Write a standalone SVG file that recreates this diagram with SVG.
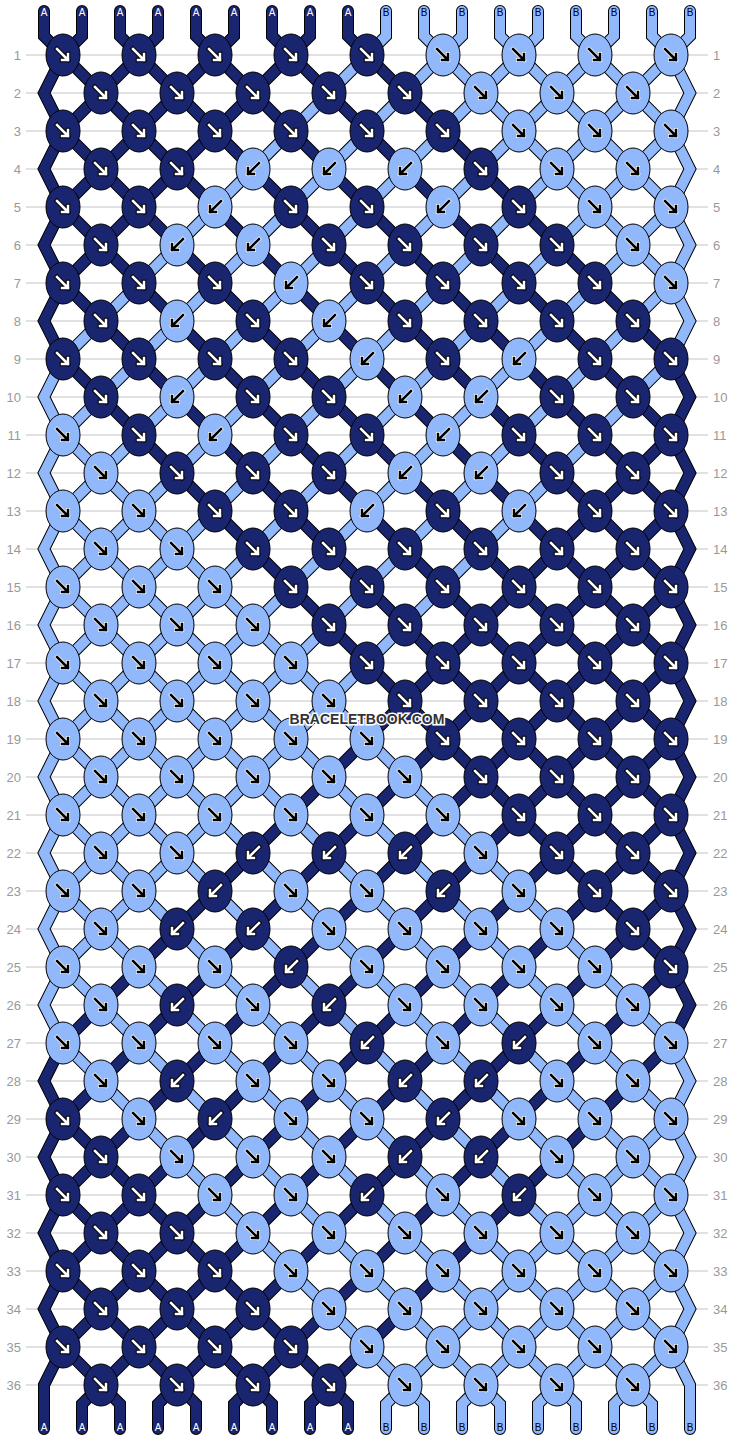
<svg xmlns="http://www.w3.org/2000/svg" xmlns:xlink="http://www.w3.org/1999/xlink" width="734" height="1440" viewBox="0 0 734 1440">
<style>
.ol{fill:none;stroke:#000;stroke-width:12;stroke-linecap:round;stroke-linejoin:miter}
.dk{fill:none;stroke:#1a2570;stroke-width:10;stroke-linecap:round;stroke-linejoin:miter}
.lt{fill:none;stroke:#91b8fa;stroke-width:10;stroke-linecap:round;stroke-linejoin:miter}
.ed{fill:#1a2570;stroke:#000;stroke-width:1}
.el{fill:#91b8fa;stroke:#000;stroke-width:1}
.ha{fill:none;stroke:#000;stroke-width:4.5;stroke-linecap:square}
.hb{fill:none;stroke:#fff;stroke-width:4;stroke-linecap:square}
.aw{fill:none;stroke:#fff;stroke-width:2.5;stroke-linecap:square}
.ab{fill:none;stroke:#000;stroke-width:2.5;stroke-linecap:square}
.grid{fill:none;stroke:#c4c4c4;stroke-width:1}
.num{font-family:"Liberation Sans",Arial,sans-serif;font-size:13px;fill:#999}
.lab{font-family:"Liberation Sans",Arial,sans-serif;font-size:10px;text-anchor:middle}
.la{fill:#fff}
.lb{fill:#000}
.wm{font-family:"Liberation Sans",Arial,sans-serif;font-size:14px;font-weight:bold;fill:#333;stroke:#fff;stroke-width:3;paint-order:stroke;text-anchor:middle}
</style>
<defs>
<g id="ka"><ellipse rx="17" ry="21" class="ed"/><path d="M-6-6L5 5M5-1V5H-1" class="ha"/><path d="M-6-6L5 5M5-1V5H-1" class="aw"/></g>
<g id="kb"><ellipse rx="17" ry="21" class="ed"/><path d="M6-6L-5 5M-5-1V5H1" class="ha"/><path d="M6-6L-5 5M-5-1V5H1" class="aw"/></g>
<g id="kc"><ellipse rx="17" ry="21" class="el"/><path d="M-6-6L5 5M5-1V5H-1" class="hb"/><path d="M-6-6L5 5M5-1V5H-1" class="ab"/></g>
<g id="kd"><ellipse rx="17" ry="21" class="el"/><path d="M6-6L-5 5M-5-1V5H1" class="hb"/><path d="M6-6L-5 5M-5-1V5H1" class="ab"/></g>
<polyline id="s1" points="44,11 44,36 63,55 671,663 690,701 671,739 63,1347 44,1385 44,1429"/>
<polyline id="s2" points="82,11 82,36 63,55 44,93 63,131 671,739 690,777 671,815 101,1385 82,1404 82,1429"/>
<polyline id="s3" points="120,11 120,36 139,55 671,587 690,625 671,663 63,1271 44,1309 63,1347 101,1385 120,1404 120,1429"/>
<polyline id="s4" points="158,11 158,36 139,55 63,131 44,169 63,207 671,815 690,853 671,891 177,1385 158,1404 158,1429"/>
<polyline id="s5" points="196,11 196,36 215,55 671,511 690,549 671,587 63,1195 44,1233 63,1271 177,1385 196,1404 196,1429"/>
<polyline id="s6" points="234,11 234,36 215,55 63,207 44,245 63,283 671,891 690,929 671,967 253,1385 234,1404 234,1429"/>
<polyline id="s7" points="272,11 272,36 291,55 671,435 690,473 671,511 63,1119 44,1157 63,1195 253,1385 272,1404 272,1429"/>
<polyline id="s8" points="310,11 310,36 291,55 63,283 44,321 63,359 671,967 690,1005 671,1043 329,1385 310,1404 310,1429"/>
<polyline id="s9" points="348,11 348,36 367,55 671,359 690,397 671,435 63,1043 44,1081 63,1119 329,1385 348,1404 348,1429"/>
<polyline id="s10" points="386,11 386,36 367,55 63,359 44,397 63,435 671,1043 690,1081 671,1119 405,1385 386,1404 386,1429"/>
<polyline id="s11" points="424,11 424,36 443,55 671,283 690,321 671,359 63,967 44,1005 63,1043 405,1385 424,1404 424,1429"/>
<polyline id="s12" points="462,11 462,36 443,55 63,435 44,473 63,511 671,1119 690,1157 671,1195 481,1385 462,1404 462,1429"/>
<polyline id="s13" points="500,11 500,36 519,55 671,207 690,245 671,283 63,891 44,929 63,967 481,1385 500,1404 500,1429"/>
<polyline id="s14" points="538,11 538,36 519,55 63,511 44,549 63,587 671,1195 690,1233 671,1271 557,1385 538,1404 538,1429"/>
<polyline id="s15" points="576,11 576,36 595,55 671,131 690,169 671,207 63,815 44,853 63,891 557,1385 576,1404 576,1429"/>
<polyline id="s16" points="614,11 614,36 595,55 63,587 44,625 63,663 671,1271 690,1309 671,1347 633,1385 614,1404 614,1429"/>
<polyline id="s17" points="652,11 652,36 671,55 690,93 671,131 63,739 44,777 63,815 633,1385 652,1404 652,1429"/>
<polyline id="s18" points="690,11 690,36 671,55 63,663 44,701 63,739 671,1347 690,1385 690,1429"/>
</defs>
<rect width="734" height="1440" fill="#fff"/>
<path class="grid" d="M26 55H708M26 93H708M26 131H708M26 169H708M26 207H708M26 245H708M26 283H708M26 321H708M26 359H708M26 397H708M26 435H708M26 473H708M26 511H708M26 549H708M26 587H708M26 625H708M26 663H708M26 701H708M26 739H708M26 777H708M26 815H708M26 853H708M26 891H708M26 929H708M26 967H708M26 1005H708M26 1043H708M26 1081H708M26 1119H708M26 1157H708M26 1195H708M26 1233H708M26 1271H708M26 1309H708M26 1347H708M26 1385H708"/>
<g id="rownumbers" class="num">
<g text-anchor="end">
<text x="21" y="60">1</text><text x="21" y="98">2</text><text x="21" y="136">3</text><text x="21" y="174">4</text><text x="21" y="212">5</text><text x="21" y="250">6</text><text x="21" y="288">7</text><text x="21" y="326">8</text><text x="21" y="364">9</text><text x="21" y="402">10</text><text x="21" y="440">11</text><text x="21" y="478">12</text><text x="21" y="516">13</text><text x="21" y="554">14</text><text x="21" y="592">15</text><text x="21" y="630">16</text><text x="21" y="668">17</text><text x="21" y="706">18</text><text x="21" y="744">19</text><text x="21" y="782">20</text><text x="21" y="820">21</text><text x="21" y="858">22</text><text x="21" y="896">23</text><text x="21" y="934">24</text><text x="21" y="972">25</text><text x="21" y="1010">26</text><text x="21" y="1048">27</text><text x="21" y="1086">28</text><text x="21" y="1124">29</text><text x="21" y="1162">30</text><text x="21" y="1200">31</text><text x="21" y="1238">32</text><text x="21" y="1276">33</text><text x="21" y="1314">34</text><text x="21" y="1352">35</text><text x="21" y="1390">36</text>
</g>
<g text-anchor="start">
<text x="713" y="60">1</text><text x="713" y="98">2</text><text x="713" y="136">3</text><text x="713" y="174">4</text><text x="713" y="212">5</text><text x="713" y="250">6</text><text x="713" y="288">7</text><text x="713" y="326">8</text><text x="713" y="364">9</text><text x="713" y="402">10</text><text x="713" y="440">11</text><text x="713" y="478">12</text><text x="713" y="516">13</text><text x="713" y="554">14</text><text x="713" y="592">15</text><text x="713" y="630">16</text><text x="713" y="668">17</text><text x="713" y="706">18</text><text x="713" y="744">19</text><text x="713" y="782">20</text><text x="713" y="820">21</text><text x="713" y="858">22</text><text x="713" y="896">23</text><text x="713" y="934">24</text><text x="713" y="972">25</text><text x="713" y="1010">26</text><text x="713" y="1048">27</text><text x="713" y="1086">28</text><text x="713" y="1124">29</text><text x="713" y="1162">30</text><text x="713" y="1200">31</text><text x="713" y="1238">32</text><text x="713" y="1276">33</text><text x="713" y="1314">34</text><text x="713" y="1352">35</text><text x="713" y="1390">36</text>
</g>
</g>
<g id="connectors">
<g class="ol"><use href="#s1"/><use href="#s2"/><use href="#s3"/><use href="#s4"/><use href="#s5"/><use href="#s6"/><use href="#s7"/><use href="#s8"/><use href="#s9"/><use href="#s10"/><use href="#s11"/><use href="#s12"/><use href="#s13"/><use href="#s14"/><use href="#s15"/><use href="#s16"/><use href="#s17"/><use href="#s18"/></g>
<g class="dk"><use href="#s1"/><use href="#s2"/><use href="#s3"/><use href="#s4"/><use href="#s5"/><use href="#s6"/><use href="#s7"/><use href="#s8"/><use href="#s9"/></g>
<g class="lt"><use href="#s10"/><use href="#s11"/><use href="#s12"/><use href="#s13"/><use href="#s14"/><use href="#s15"/><use href="#s16"/><use href="#s17"/><use href="#s18"/></g>
</g>
<g id="labels" class="lab">
<g class="la"><text x="44" y="16">A</text><text x="82" y="16">A</text><text x="120" y="16">A</text><text x="158" y="16">A</text><text x="196" y="16">A</text><text x="234" y="16">A</text><text x="272" y="16">A</text><text x="310" y="16">A</text><text x="348" y="16">A</text>
<text x="44" y="1431">A</text><text x="82" y="1431">A</text><text x="120" y="1431">A</text><text x="158" y="1431">A</text><text x="196" y="1431">A</text><text x="234" y="1431">A</text><text x="272" y="1431">A</text><text x="310" y="1431">A</text><text x="348" y="1431">A</text></g>
<g class="lb"><text x="386" y="16">B</text><text x="424" y="16">B</text><text x="462" y="16">B</text><text x="500" y="16">B</text><text x="538" y="16">B</text><text x="576" y="16">B</text><text x="614" y="16">B</text><text x="652" y="16">B</text><text x="690" y="16">B</text>
<text x="386" y="1431">B</text><text x="424" y="1431">B</text><text x="462" y="1431">B</text><text x="500" y="1431">B</text><text x="538" y="1431">B</text><text x="576" y="1431">B</text><text x="614" y="1431">B</text><text x="652" y="1431">B</text><text x="690" y="1431">B</text></g>
</g>
<g id="knots">
<g id="k1-1"><use href="#ka" x="63" y="55"/></g><g id="k1-2"><use href="#ka" x="139" y="55"/></g><g id="k1-3"><use href="#ka" x="215" y="55"/></g><g id="k1-4"><use href="#ka" x="291" y="55"/></g><g id="k1-5"><use href="#ka" x="367" y="55"/></g><g id="k1-6"><use href="#kc" x="443" y="55"/></g><g id="k1-7"><use href="#kc" x="519" y="55"/></g><g id="k1-8"><use href="#kc" x="595" y="55"/></g><g id="k1-9"><use href="#kc" x="671" y="55"/></g>
<g id="k2-1"><use href="#ka" x="101" y="93"/></g><g id="k2-2"><use href="#ka" x="177" y="93"/></g><g id="k2-3"><use href="#ka" x="253" y="93"/></g><g id="k2-4"><use href="#ka" x="329" y="93"/></g><g id="k2-5"><use href="#ka" x="405" y="93"/></g><g id="k2-6"><use href="#kc" x="481" y="93"/></g><g id="k2-7"><use href="#kc" x="557" y="93"/></g><g id="k2-8"><use href="#kc" x="633" y="93"/></g>
<g id="k3-1"><use href="#ka" x="63" y="131"/></g><g id="k3-2"><use href="#ka" x="139" y="131"/></g><g id="k3-3"><use href="#ka" x="215" y="131"/></g><g id="k3-4"><use href="#ka" x="291" y="131"/></g><g id="k3-5"><use href="#ka" x="367" y="131"/></g><g id="k3-6"><use href="#ka" x="443" y="131"/></g><g id="k3-7"><use href="#kc" x="519" y="131"/></g><g id="k3-8"><use href="#kc" x="595" y="131"/></g><g id="k3-9"><use href="#kc" x="671" y="131"/></g>
<g id="k4-1"><use href="#ka" x="101" y="169"/></g><g id="k4-2"><use href="#ka" x="177" y="169"/></g><g id="k4-3"><use href="#kd" x="253" y="169"/></g><g id="k4-4"><use href="#kd" x="329" y="169"/></g><g id="k4-5"><use href="#kd" x="405" y="169"/></g><g id="k4-6"><use href="#ka" x="481" y="169"/></g><g id="k4-7"><use href="#kc" x="557" y="169"/></g><g id="k4-8"><use href="#kc" x="633" y="169"/></g>
<g id="k5-1"><use href="#ka" x="63" y="207"/></g><g id="k5-2"><use href="#ka" x="139" y="207"/></g><g id="k5-3"><use href="#kd" x="215" y="207"/></g><g id="k5-4"><use href="#ka" x="291" y="207"/></g><g id="k5-5"><use href="#ka" x="367" y="207"/></g><g id="k5-6"><use href="#kd" x="443" y="207"/></g><g id="k5-7"><use href="#ka" x="519" y="207"/></g><g id="k5-8"><use href="#kc" x="595" y="207"/></g><g id="k5-9"><use href="#kc" x="671" y="207"/></g>
<g id="k6-1"><use href="#ka" x="101" y="245"/></g><g id="k6-2"><use href="#kd" x="177" y="245"/></g><g id="k6-3"><use href="#kd" x="253" y="245"/></g><g id="k6-4"><use href="#ka" x="329" y="245"/></g><g id="k6-5"><use href="#ka" x="405" y="245"/></g><g id="k6-6"><use href="#ka" x="481" y="245"/></g><g id="k6-7"><use href="#ka" x="557" y="245"/></g><g id="k6-8"><use href="#kc" x="633" y="245"/></g>
<g id="k7-1"><use href="#ka" x="63" y="283"/></g><g id="k7-2"><use href="#ka" x="139" y="283"/></g><g id="k7-3"><use href="#ka" x="215" y="283"/></g><g id="k7-4"><use href="#kd" x="291" y="283"/></g><g id="k7-5"><use href="#ka" x="367" y="283"/></g><g id="k7-6"><use href="#ka" x="443" y="283"/></g><g id="k7-7"><use href="#ka" x="519" y="283"/></g><g id="k7-8"><use href="#ka" x="595" y="283"/></g><g id="k7-9"><use href="#kc" x="671" y="283"/></g>
<g id="k8-1"><use href="#ka" x="101" y="321"/></g><g id="k8-2"><use href="#kd" x="177" y="321"/></g><g id="k8-3"><use href="#ka" x="253" y="321"/></g><g id="k8-4"><use href="#kd" x="329" y="321"/></g><g id="k8-5"><use href="#ka" x="405" y="321"/></g><g id="k8-6"><use href="#ka" x="481" y="321"/></g><g id="k8-7"><use href="#ka" x="557" y="321"/></g><g id="k8-8"><use href="#ka" x="633" y="321"/></g>
<g id="k9-1"><use href="#ka" x="63" y="359"/></g><g id="k9-2"><use href="#ka" x="139" y="359"/></g><g id="k9-3"><use href="#ka" x="215" y="359"/></g><g id="k9-4"><use href="#ka" x="291" y="359"/></g><g id="k9-5"><use href="#kd" x="367" y="359"/></g><g id="k9-6"><use href="#ka" x="443" y="359"/></g><g id="k9-7"><use href="#kd" x="519" y="359"/></g><g id="k9-8"><use href="#ka" x="595" y="359"/></g><g id="k9-9"><use href="#ka" x="671" y="359"/></g>
<g id="k10-1"><use href="#ka" x="101" y="397"/></g><g id="k10-2"><use href="#kd" x="177" y="397"/></g><g id="k10-3"><use href="#ka" x="253" y="397"/></g><g id="k10-4"><use href="#ka" x="329" y="397"/></g><g id="k10-5"><use href="#kd" x="405" y="397"/></g><g id="k10-6"><use href="#kd" x="481" y="397"/></g><g id="k10-7"><use href="#ka" x="557" y="397"/></g><g id="k10-8"><use href="#ka" x="633" y="397"/></g>
<g id="k11-1"><use href="#kc" x="63" y="435"/></g><g id="k11-2"><use href="#ka" x="139" y="435"/></g><g id="k11-3"><use href="#kd" x="215" y="435"/></g><g id="k11-4"><use href="#ka" x="291" y="435"/></g><g id="k11-5"><use href="#ka" x="367" y="435"/></g><g id="k11-6"><use href="#kd" x="443" y="435"/></g><g id="k11-7"><use href="#ka" x="519" y="435"/></g><g id="k11-8"><use href="#ka" x="595" y="435"/></g><g id="k11-9"><use href="#ka" x="671" y="435"/></g>
<g id="k12-1"><use href="#kc" x="101" y="473"/></g><g id="k12-2"><use href="#ka" x="177" y="473"/></g><g id="k12-3"><use href="#ka" x="253" y="473"/></g><g id="k12-4"><use href="#ka" x="329" y="473"/></g><g id="k12-5"><use href="#kd" x="405" y="473"/></g><g id="k12-6"><use href="#kd" x="481" y="473"/></g><g id="k12-7"><use href="#ka" x="557" y="473"/></g><g id="k12-8"><use href="#ka" x="633" y="473"/></g>
<g id="k13-1"><use href="#kc" x="63" y="511"/></g><g id="k13-2"><use href="#kc" x="139" y="511"/></g><g id="k13-3"><use href="#ka" x="215" y="511"/></g><g id="k13-4"><use href="#ka" x="291" y="511"/></g><g id="k13-5"><use href="#kd" x="367" y="511"/></g><g id="k13-6"><use href="#ka" x="443" y="511"/></g><g id="k13-7"><use href="#kd" x="519" y="511"/></g><g id="k13-8"><use href="#ka" x="595" y="511"/></g><g id="k13-9"><use href="#ka" x="671" y="511"/></g>
<g id="k14-1"><use href="#kc" x="101" y="549"/></g><g id="k14-2"><use href="#kc" x="177" y="549"/></g><g id="k14-3"><use href="#ka" x="253" y="549"/></g><g id="k14-4"><use href="#ka" x="329" y="549"/></g><g id="k14-5"><use href="#ka" x="405" y="549"/></g><g id="k14-6"><use href="#ka" x="481" y="549"/></g><g id="k14-7"><use href="#ka" x="557" y="549"/></g><g id="k14-8"><use href="#ka" x="633" y="549"/></g>
<g id="k15-1"><use href="#kc" x="63" y="587"/></g><g id="k15-2"><use href="#kc" x="139" y="587"/></g><g id="k15-3"><use href="#kc" x="215" y="587"/></g><g id="k15-4"><use href="#ka" x="291" y="587"/></g><g id="k15-5"><use href="#ka" x="367" y="587"/></g><g id="k15-6"><use href="#ka" x="443" y="587"/></g><g id="k15-7"><use href="#ka" x="519" y="587"/></g><g id="k15-8"><use href="#ka" x="595" y="587"/></g><g id="k15-9"><use href="#ka" x="671" y="587"/></g>
<g id="k16-1"><use href="#kc" x="101" y="625"/></g><g id="k16-2"><use href="#kc" x="177" y="625"/></g><g id="k16-3"><use href="#kc" x="253" y="625"/></g><g id="k16-4"><use href="#ka" x="329" y="625"/></g><g id="k16-5"><use href="#ka" x="405" y="625"/></g><g id="k16-6"><use href="#ka" x="481" y="625"/></g><g id="k16-7"><use href="#ka" x="557" y="625"/></g><g id="k16-8"><use href="#ka" x="633" y="625"/></g>
<g id="k17-1"><use href="#kc" x="63" y="663"/></g><g id="k17-2"><use href="#kc" x="139" y="663"/></g><g id="k17-3"><use href="#kc" x="215" y="663"/></g><g id="k17-4"><use href="#kc" x="291" y="663"/></g><g id="k17-5"><use href="#ka" x="367" y="663"/></g><g id="k17-6"><use href="#ka" x="443" y="663"/></g><g id="k17-7"><use href="#ka" x="519" y="663"/></g><g id="k17-8"><use href="#ka" x="595" y="663"/></g><g id="k17-9"><use href="#ka" x="671" y="663"/></g>
<g id="k18-1"><use href="#kc" x="101" y="701"/></g><g id="k18-2"><use href="#kc" x="177" y="701"/></g><g id="k18-3"><use href="#kc" x="253" y="701"/></g><g id="k18-4"><use href="#kc" x="329" y="701"/></g><g id="k18-5"><use href="#ka" x="405" y="701"/></g><g id="k18-6"><use href="#ka" x="481" y="701"/></g><g id="k18-7"><use href="#ka" x="557" y="701"/></g><g id="k18-8"><use href="#ka" x="633" y="701"/></g>
<g id="k19-1"><use href="#kc" x="63" y="739"/></g><g id="k19-2"><use href="#kc" x="139" y="739"/></g><g id="k19-3"><use href="#kc" x="215" y="739"/></g><g id="k19-4"><use href="#kc" x="291" y="739"/></g><g id="k19-5"><use href="#kc" x="367" y="739"/></g><g id="k19-6"><use href="#ka" x="443" y="739"/></g><g id="k19-7"><use href="#ka" x="519" y="739"/></g><g id="k19-8"><use href="#ka" x="595" y="739"/></g><g id="k19-9"><use href="#ka" x="671" y="739"/></g>
<g id="k20-1"><use href="#kc" x="101" y="777"/></g><g id="k20-2"><use href="#kc" x="177" y="777"/></g><g id="k20-3"><use href="#kc" x="253" y="777"/></g><g id="k20-4"><use href="#kc" x="329" y="777"/></g><g id="k20-5"><use href="#kc" x="405" y="777"/></g><g id="k20-6"><use href="#ka" x="481" y="777"/></g><g id="k20-7"><use href="#ka" x="557" y="777"/></g><g id="k20-8"><use href="#ka" x="633" y="777"/></g>
<g id="k21-1"><use href="#kc" x="63" y="815"/></g><g id="k21-2"><use href="#kc" x="139" y="815"/></g><g id="k21-3"><use href="#kc" x="215" y="815"/></g><g id="k21-4"><use href="#kc" x="291" y="815"/></g><g id="k21-5"><use href="#kc" x="367" y="815"/></g><g id="k21-6"><use href="#kc" x="443" y="815"/></g><g id="k21-7"><use href="#ka" x="519" y="815"/></g><g id="k21-8"><use href="#ka" x="595" y="815"/></g><g id="k21-9"><use href="#ka" x="671" y="815"/></g>
<g id="k22-1"><use href="#kc" x="101" y="853"/></g><g id="k22-2"><use href="#kc" x="177" y="853"/></g><g id="k22-3"><use href="#kb" x="253" y="853"/></g><g id="k22-4"><use href="#kb" x="329" y="853"/></g><g id="k22-5"><use href="#kb" x="405" y="853"/></g><g id="k22-6"><use href="#kc" x="481" y="853"/></g><g id="k22-7"><use href="#ka" x="557" y="853"/></g><g id="k22-8"><use href="#ka" x="633" y="853"/></g>
<g id="k23-1"><use href="#kc" x="63" y="891"/></g><g id="k23-2"><use href="#kc" x="139" y="891"/></g><g id="k23-3"><use href="#kb" x="215" y="891"/></g><g id="k23-4"><use href="#kc" x="291" y="891"/></g><g id="k23-5"><use href="#kc" x="367" y="891"/></g><g id="k23-6"><use href="#kb" x="443" y="891"/></g><g id="k23-7"><use href="#kc" x="519" y="891"/></g><g id="k23-8"><use href="#ka" x="595" y="891"/></g><g id="k23-9"><use href="#ka" x="671" y="891"/></g>
<g id="k24-1"><use href="#kc" x="101" y="929"/></g><g id="k24-2"><use href="#kb" x="177" y="929"/></g><g id="k24-3"><use href="#kb" x="253" y="929"/></g><g id="k24-4"><use href="#kc" x="329" y="929"/></g><g id="k24-5"><use href="#kc" x="405" y="929"/></g><g id="k24-6"><use href="#kc" x="481" y="929"/></g><g id="k24-7"><use href="#kc" x="557" y="929"/></g><g id="k24-8"><use href="#ka" x="633" y="929"/></g>
<g id="k25-1"><use href="#kc" x="63" y="967"/></g><g id="k25-2"><use href="#kc" x="139" y="967"/></g><g id="k25-3"><use href="#kc" x="215" y="967"/></g><g id="k25-4"><use href="#kb" x="291" y="967"/></g><g id="k25-5"><use href="#kc" x="367" y="967"/></g><g id="k25-6"><use href="#kc" x="443" y="967"/></g><g id="k25-7"><use href="#kc" x="519" y="967"/></g><g id="k25-8"><use href="#kc" x="595" y="967"/></g><g id="k25-9"><use href="#ka" x="671" y="967"/></g>
<g id="k26-1"><use href="#kc" x="101" y="1005"/></g><g id="k26-2"><use href="#kb" x="177" y="1005"/></g><g id="k26-3"><use href="#kc" x="253" y="1005"/></g><g id="k26-4"><use href="#kb" x="329" y="1005"/></g><g id="k26-5"><use href="#kc" x="405" y="1005"/></g><g id="k26-6"><use href="#kc" x="481" y="1005"/></g><g id="k26-7"><use href="#kc" x="557" y="1005"/></g><g id="k26-8"><use href="#kc" x="633" y="1005"/></g>
<g id="k27-1"><use href="#kc" x="63" y="1043"/></g><g id="k27-2"><use href="#kc" x="139" y="1043"/></g><g id="k27-3"><use href="#kc" x="215" y="1043"/></g><g id="k27-4"><use href="#kc" x="291" y="1043"/></g><g id="k27-5"><use href="#kb" x="367" y="1043"/></g><g id="k27-6"><use href="#kc" x="443" y="1043"/></g><g id="k27-7"><use href="#kb" x="519" y="1043"/></g><g id="k27-8"><use href="#kc" x="595" y="1043"/></g><g id="k27-9"><use href="#kc" x="671" y="1043"/></g>
<g id="k28-1"><use href="#kc" x="101" y="1081"/></g><g id="k28-2"><use href="#kb" x="177" y="1081"/></g><g id="k28-3"><use href="#kc" x="253" y="1081"/></g><g id="k28-4"><use href="#kc" x="329" y="1081"/></g><g id="k28-5"><use href="#kb" x="405" y="1081"/></g><g id="k28-6"><use href="#kb" x="481" y="1081"/></g><g id="k28-7"><use href="#kc" x="557" y="1081"/></g><g id="k28-8"><use href="#kc" x="633" y="1081"/></g>
<g id="k29-1"><use href="#ka" x="63" y="1119"/></g><g id="k29-2"><use href="#kc" x="139" y="1119"/></g><g id="k29-3"><use href="#kb" x="215" y="1119"/></g><g id="k29-4"><use href="#kc" x="291" y="1119"/></g><g id="k29-5"><use href="#kc" x="367" y="1119"/></g><g id="k29-6"><use href="#kb" x="443" y="1119"/></g><g id="k29-7"><use href="#kc" x="519" y="1119"/></g><g id="k29-8"><use href="#kc" x="595" y="1119"/></g><g id="k29-9"><use href="#kc" x="671" y="1119"/></g>
<g id="k30-1"><use href="#ka" x="101" y="1157"/></g><g id="k30-2"><use href="#kc" x="177" y="1157"/></g><g id="k30-3"><use href="#kc" x="253" y="1157"/></g><g id="k30-4"><use href="#kc" x="329" y="1157"/></g><g id="k30-5"><use href="#kb" x="405" y="1157"/></g><g id="k30-6"><use href="#kb" x="481" y="1157"/></g><g id="k30-7"><use href="#kc" x="557" y="1157"/></g><g id="k30-8"><use href="#kc" x="633" y="1157"/></g>
<g id="k31-1"><use href="#ka" x="63" y="1195"/></g><g id="k31-2"><use href="#ka" x="139" y="1195"/></g><g id="k31-3"><use href="#kc" x="215" y="1195"/></g><g id="k31-4"><use href="#kc" x="291" y="1195"/></g><g id="k31-5"><use href="#kb" x="367" y="1195"/></g><g id="k31-6"><use href="#kc" x="443" y="1195"/></g><g id="k31-7"><use href="#kb" x="519" y="1195"/></g><g id="k31-8"><use href="#kc" x="595" y="1195"/></g><g id="k31-9"><use href="#kc" x="671" y="1195"/></g>
<g id="k32-1"><use href="#ka" x="101" y="1233"/></g><g id="k32-2"><use href="#ka" x="177" y="1233"/></g><g id="k32-3"><use href="#kc" x="253" y="1233"/></g><g id="k32-4"><use href="#kc" x="329" y="1233"/></g><g id="k32-5"><use href="#kc" x="405" y="1233"/></g><g id="k32-6"><use href="#kc" x="481" y="1233"/></g><g id="k32-7"><use href="#kc" x="557" y="1233"/></g><g id="k32-8"><use href="#kc" x="633" y="1233"/></g>
<g id="k33-1"><use href="#ka" x="63" y="1271"/></g><g id="k33-2"><use href="#ka" x="139" y="1271"/></g><g id="k33-3"><use href="#ka" x="215" y="1271"/></g><g id="k33-4"><use href="#kc" x="291" y="1271"/></g><g id="k33-5"><use href="#kc" x="367" y="1271"/></g><g id="k33-6"><use href="#kc" x="443" y="1271"/></g><g id="k33-7"><use href="#kc" x="519" y="1271"/></g><g id="k33-8"><use href="#kc" x="595" y="1271"/></g><g id="k33-9"><use href="#kc" x="671" y="1271"/></g>
<g id="k34-1"><use href="#ka" x="101" y="1309"/></g><g id="k34-2"><use href="#ka" x="177" y="1309"/></g><g id="k34-3"><use href="#ka" x="253" y="1309"/></g><g id="k34-4"><use href="#kc" x="329" y="1309"/></g><g id="k34-5"><use href="#kc" x="405" y="1309"/></g><g id="k34-6"><use href="#kc" x="481" y="1309"/></g><g id="k34-7"><use href="#kc" x="557" y="1309"/></g><g id="k34-8"><use href="#kc" x="633" y="1309"/></g>
<g id="k35-1"><use href="#ka" x="63" y="1347"/></g><g id="k35-2"><use href="#ka" x="139" y="1347"/></g><g id="k35-3"><use href="#ka" x="215" y="1347"/></g><g id="k35-4"><use href="#ka" x="291" y="1347"/></g><g id="k35-5"><use href="#kc" x="367" y="1347"/></g><g id="k35-6"><use href="#kc" x="443" y="1347"/></g><g id="k35-7"><use href="#kc" x="519" y="1347"/></g><g id="k35-8"><use href="#kc" x="595" y="1347"/></g><g id="k35-9"><use href="#kc" x="671" y="1347"/></g>
<g id="k36-1"><use href="#ka" x="101" y="1385"/></g><g id="k36-2"><use href="#ka" x="177" y="1385"/></g><g id="k36-3"><use href="#ka" x="253" y="1385"/></g><g id="k36-4"><use href="#ka" x="329" y="1385"/></g><g id="k36-5"><use href="#kc" x="405" y="1385"/></g><g id="k36-6"><use href="#kc" x="481" y="1385"/></g><g id="k36-7"><use href="#kc" x="557" y="1385"/></g><g id="k36-8"><use href="#kc" x="633" y="1385"/></g>
</g>
<text class="wm" x="367" y="724">BRACELETBOOK.COM</text>
</svg>
